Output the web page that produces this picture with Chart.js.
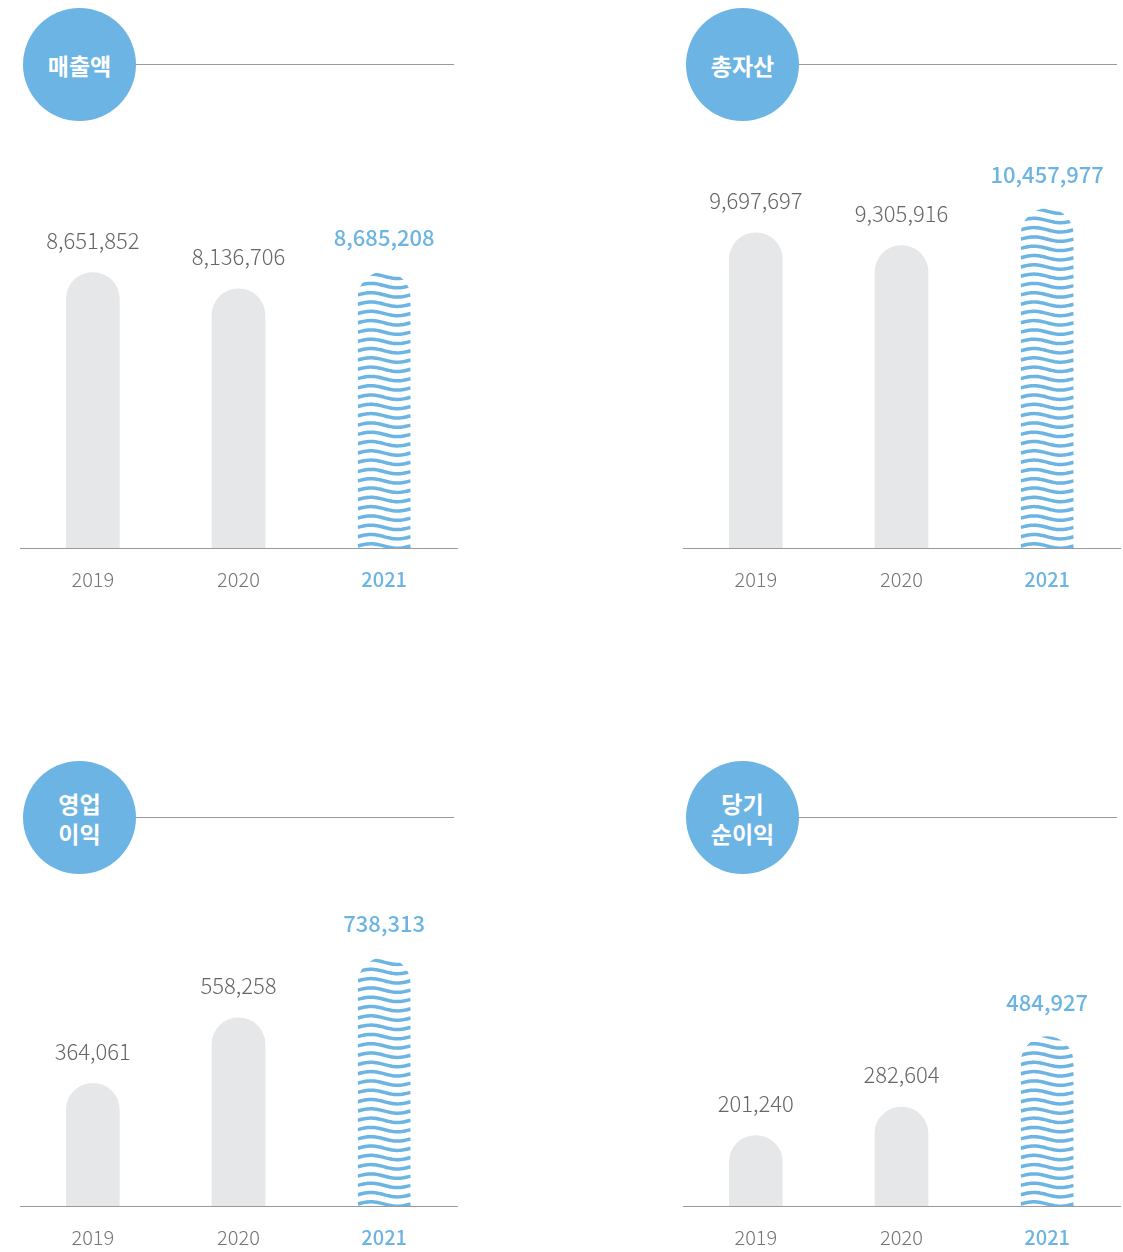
<!DOCTYPE html>
<html>
<head>
<meta charset="utf-8">
<script src="https://cdn.jsdelivr.net/npm/chart.js@4"></script>
<style>
  html, body { margin: 0; padding: 0; background: #fff; overflow: hidden; }
  body { width: 1123px; height: 1252px; position: relative; font-family: 'Noto Sans CJK KR', sans-serif; }
  .badge {
    position: absolute; width: 113px; height: 113px; border-radius: 50%;
    background: #6bb4e3; color: #fff; font-size: 23px; font-weight: 700;
    display: flex; align-items: center; justify-content: center; text-align: center;
    line-height: 30px; z-index: 2;
  }
  .rule { position: absolute; height: 0; border-top: 1px solid #9a9a9a; }
  .panel { position: absolute; width: 480px; height: 480px; }
</style>
</head>
<body>
<div id="root"></div>
<script>
/* --- data --- */
const years = ['2019', '2020', '2021'];
const salesValues = [8651852, 8136706, 8685208];
const assetValues = [9697697, 9305916, 10457977];
const opIncomeValues = [364061, 558258, 738313];
const netIncomeValues = [201240, 282604, 484927];
const panelTitles = [['매출액'], ['총자산'], ['영업', '이익'], ['당기', '순이익']];
const highlightIndex = 2;

const COLORS = {
  blue: '#6bb4e3',
  bar: '#e6e7e9',
  axis: '#9a9a9a',
  text: '#666666',
  tick: '#757575',
};
const FONT = "'Noto Sans CJK KR', 'Noto Sans', sans-serif";

/* panel placement: left edge, baseline y, axis max */
const panels = [
  { title: panelTitles[0], values: salesValues, left: 4, baseline: 548, max: 12.5e6 },
  { title: panelTitles[1], values: assetValues, left: 667, baseline: 548, max: 12.25e6 },
  { title: panelTitles[2], values: opIncomeValues, left: 4, baseline: 1206, max: 1181000 },
  { title: panelTitles[3], values: netIncomeValues, left: 667, baseline: 1206, max: 1137000 },
];

/* wavy fill + value labels drawn on top of the bars */
const wavePlugin = {
  id: 'waves',
  afterDatasetsDraw(chart) {
    const ctx = chart.ctx;
    const meta = chart.getDatasetMeta(0);
    const values = chart.data.datasets[0].data;
    meta.data.forEach((bar, i) => {
      const p = bar.getProps(['x', 'y', 'base', 'width'], true);
      const left = p.x - p.width / 2;
      const r = p.width / 2;
      if (i === highlightIndex) {
        ctx.save();
        ctx.beginPath();
        ctx.roundRect(left, p.y, p.width, p.base - p.y, [r, r, 0, 0]);
        ctx.clip();
        ctx.strokeStyle = COLORS.blue;
        ctx.lineWidth = 3.5;
        for (let yy = p.base - 2; yy > p.y - 6; yy -= 9.3) {
          ctx.beginPath();
          for (let px = 0; px <= p.width; px += 1) {
            const wy = yy - 2.2 * Math.sin(2 * Math.PI * px / p.width);
            if (px === 0) ctx.moveTo(left + px, wy);
            else ctx.lineTo(left + px, wy);
          }
          ctx.stroke();
        }
        ctx.restore();
      }
      // value label above bar
      ctx.save();
      ctx.textAlign = 'center';
      ctx.textBaseline = 'middle';
      const hl = i === highlightIndex;
      ctx.font = (hl ? '500 ' : '300 ') + '22px ' + FONT;
      ctx.fillStyle = hl ? COLORS.blue : COLORS.text;
      ctx.fillText(values[i].toLocaleString('en-US'), p.x, p.y - (hl ? 34 : 32));
      ctx.restore();
    });
  }
};

const root = document.getElementById('root');

panels.forEach((cfg, n) => {
  // header badge and rule
  const badgeLeft = cfg.left + 19;
  const badgeTop = n < 2 ? 8 : 761;
  const badge = document.createElement('div');
  badge.className = 'badge';
  badge.style.left = badgeLeft + 'px';
  badge.style.top = badgeTop + 'px';
  badge.innerHTML = cfg.title.join('<br>');
  root.appendChild(badge);

  const rule = document.createElement('div');
  rule.className = 'rule';
  rule.style.left = (badgeLeft + 100) + 'px';
  rule.style.width = (cfg.left + 450 - badgeLeft - 100) + 'px';
  rule.style.top = (badgeTop + 56) + 'px';
  root.appendChild(rule);

  // chart
  const wrap = document.createElement('div');
  wrap.className = 'panel';
  wrap.style.left = cfg.left + 'px';
  wrap.style.top = (cfg.baseline - 418) + 'px';
  const canvas = document.createElement('canvas');
  wrap.appendChild(canvas);
  root.appendChild(wrap);

  new Chart(canvas, {
    type: 'bar',
    data: {
      labels: years,
      datasets: [{
        data: cfg.values,
        backgroundColor: cfg.values.map((v, i) => i === highlightIndex ? 'rgba(0,0,0,0)' : COLORS.bar),
        barThickness: 53,
        borderRadius: { topLeft: 26.5, topRight: 26.5, bottomLeft: 0, bottomRight: 0 },
        borderSkipped: 'bottom',
      }]
    },
    options: {
      responsive: true,
      maintainAspectRatio: false,
      animation: false,
      layout: { padding: { left: 16, right: 27, top: 20, bottom: 0 } },
      plugins: { legend: { display: false }, tooltip: { enabled: false } },
      scales: {
        x: {
          grid: { display: false, drawTicks: false },
          border: { display: true, color: COLORS.axis, width: 1 },
          ticks: {
            padding: 19,
            color: (c) => c.index === highlightIndex ? COLORS.blue : COLORS.tick,
            font: (c) => ({ family: FONT, size: 20, weight: c.index === highlightIndex ? '500' : '300', lineHeight: 1.2 }),
          },
        },
        y: {
          display: false,
          min: 0,
          max: cfg.max,
        }
      }
    },
    plugins: [wavePlugin]
  });
});
</script>
</body>
</html>
